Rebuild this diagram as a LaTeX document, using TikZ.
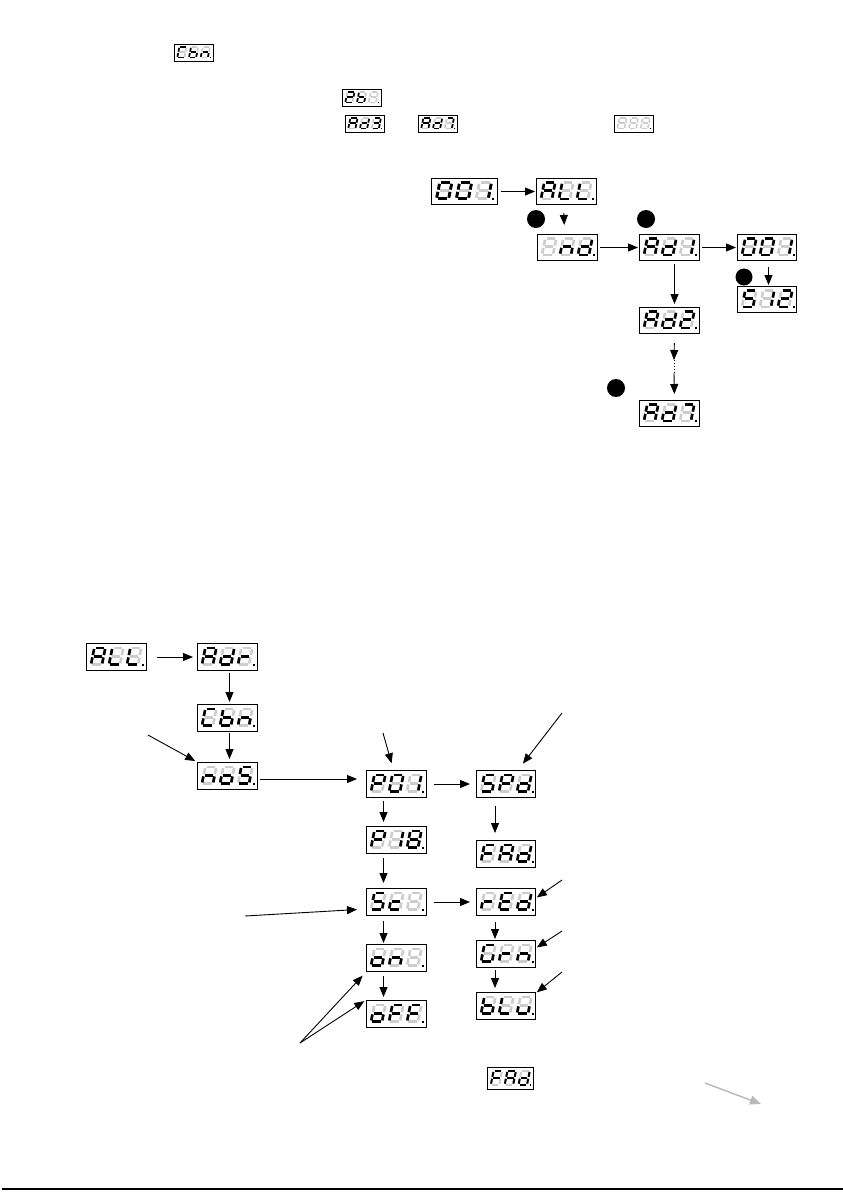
\documentclass[tikz,border=0pt]{standalone}
\usetikzlibrary{arrows.meta}
\definecolor{ghost}{RGB}{205,205,205}
\definecolor{arrgray}{RGB}{185,185,185}
\tikzset{
  dbox/.style={draw=black, line width=1pt, inner sep=0pt, fill=white},
  segoff/.style={draw=ghost, line cap=butt},
  segon/.style={draw=black, line cap=butt},
  arr/.style={-{Triangle[length=10pt,width=8pt]}, line width=0.9pt},
  garr/.style={-{Triangle[length=11pt,width=9pt]}, line width=1.4pt, draw=arrgray, fill=arrgray},
  bdot/.style={circle, fill=black, inner sep=0pt, minimum size=18pt},
}
% segment paths in digit coordinates
\def\spa{(0.12,1)--(0.88,1)}
\def\spb{(1,0.93)--(1,0.57)}
\def\spc{(1,0.43)--(1,0.07)}
\def\spd{(0.12,0)--(0.88,0)}
\def\spe{(0,0.43)--(0,0.07)}
\def\spf{(0,0.93)--(0,0.57)}
\def\spg{(0.12,0.5)--(0.88,0.5)}
\def\spx{(0,0)}
% characters
\def\sgZero{a,b,c,d,e,f}
\def\sgOne{b,c}
\def\sgTwo{a,b,d,e,g}
\def\sgThree{a,b,c,d,g}
\def\sgSeven{a,b,c}
\def\sgEight{a,b,c,d,e,f,g}
\def\sgS{a,c,d,f,g}
\def\sgA{a,b,c,e,f,g}
\def\sgL{d,e,f}
\def\sgb{c,d,e,f,g}
\def\sgC{a,d,e,f}
\def\sgn{c,e,g}
\def\sgd{b,c,d,e,g}
\def\sgr{e,g}
\def\sgo{c,d,e,g}
\def\sgP{a,b,e,f,g}
\def\sgc{d,e,g}
\def\sgF{a,e,f,g}
\def\sgE{a,d,e,f,g}
\def\sgG{a,c,d,e,f}
\def\sgu{c,d,e}
\def\sgX{x}
% one digit: x, y (bottom-left), scale, height, segment list
\newcommand\dig[5]{%
  \pgfmathsetmacro\dsx{11*#3}%
  \pgfmathsetmacro\dsy{#4}%
  \pgfmathsetmacro\dsl{0.2*#4}%
  \begin{scope}[shift={(#1,#2)}, x={(\dsx pt,0pt)}, y={(\dsl pt,\dsy pt)}]
    \foreach \q in {a,b,c,d,e,f,g}{\draw[segoff] \csname sp\q\endcsname;}
    \foreach \q in #5{\draw[segon] \csname sp\q\endcsname;}
  \end{scope}}
% display: name, x, y (top-left), width, height, scale, three digits
\newcommand\disp[9]{%
  \node[dbox, minimum width=#4pt, minimum height=#5pt, anchor=north west] (#1) at (#2,#3) {};
  \pgfmathsetmacro\dlw{2.6*#6}%
  \pgfmathsetmacro\dbase{#3+0.8*#5}%
  \pgfmathsetmacro\dh{0.62*#5}%
  \begin{scope}[line width=\dlw pt]
    \dig{#2+5*#6}{\dbase}{#6}{\dh}{#7}
    \dig{#2+23*#6}{\dbase}{#6}{\dh}{#8}
    \dig{#2+41*#6}{\dbase}{#6}{\dh}{#9}
  \end{scope}
  \fill (#2+55.5*#6,\dbase+1.2*#6) rectangle ++(2*#6,-2*#6);
}
\begin{document}
\begin{tikzpicture}[x=1pt,y=-1pt]
\useasboundingbox (0,0) rectangle (843,1192);
\fill[white] (0,0) rectangle (843,1192);

% ---- small displays at the top ----
\disp{tCbn}{174}{44}{39}{17}{0.65}{\sgC}{\sgb}{\sgn}
\disp{tTwob}{342}{89}{39}{17}{0.65}{\sgTwo}{\sgb}{\sgX}
\disp{tAdThree}{345}{115}{39}{17}{0.65}{\sgA}{\sgd}{\sgThree}
\disp{tAdSeven}{418}{115}{39}{17}{0.65}{\sgA}{\sgd}{\sgSeven}
\disp{tDash}{614}{115}{39}{17}{0.65}{\sgX}{\sgX}{\sgX}

% ---- upper diagram ----
\disp{aZZO}{431}{178}{66}{26}{1.1}{\sgZero}{\sgZero}{\sgOne}
\disp{aALL}{536}{178}{60}{26}{1}{\sgA}{\sgL}{\sgL}
\disp{Ind}{537}{234}{60}{26}{1}{\sgX}{\sgn}{\sgd}
\disp{AdOne}{639}{234}{60}{26}{1}{\sgA}{\sgd}{\sgOne}
\disp{bZZO}{737}{234}{59}{26}{1}{\sgZero}{\sgZero}{\sgOne}
\disp{SOT}{737}{286}{59}{26}{1}{\sgS}{\sgOne}{\sgTwo}
\disp{AdTwo}{639}{307}{60}{26}{1}{\sgA}{\sgd}{\sgTwo}
\disp{AdSeven}{639}{400}{60}{26}{1}{\sgA}{\sgd}{\sgSeven}

\node[bdot] (k1) at (536,219) {};
\node[bdot] (k2) at (646,219) {};
\node[bdot, minimum size=17pt] (k3) at (744,277) {};
\node[bdot] (k4) at (616,388) {};

\draw[arr, shorten <=3pt, shorten >=1pt] (aZZO.east) -- (aALL.west);
\draw[arr, shorten <=8pt, shorten >=9pt] ([xshift=-3pt]aALL.south) -- ([xshift=-3pt]Ind.north);
\draw[arr, shorten <=2pt, shorten >=1pt] (Ind.east) -- (AdOne.west);
\draw[arr, shorten <=2pt, shorten >=1pt] (AdOne.east) -- (bZZO.west);
\draw[arr, shorten <=6pt, shorten >=1pt] ([xshift=1.5pt]bZZO.south) -- ([xshift=1.5pt]SOT.north);
\draw[arr, shorten <=3pt, shorten >=3pt] ([xshift=5pt]AdOne.south) -- ([xshift=5pt]AdTwo.north);
\coordinate (m1) at (674,360);
\coordinate (m2) at (674,373);
\draw[arr, shorten <=9pt] ([xshift=5pt]AdTwo.south) -- (m1);
\draw[dotted, line width=0.9pt] (m1) -- (m2);
\draw[arr, shorten >=6pt] (m2) -- ([xshift=5pt]AdSeven.north);

% ---- lower diagram ----
\disp{ALLb}{86}{643}{60}{27}{1}{\sgA}{\sgL}{\sgL}
\disp{Adr}{197}{643}{60}{27}{1}{\sgA}{\sgd}{\sgr}
\disp{Cbnb}{197}{704}{60}{27}{1}{\sgC}{\sgb}{\sgn}
\disp{noS}{197}{762}{60}{27}{1}{\sgn}{\sgo}{\sgS}
\disp{POO}{366}{770}{60}{27}{1}{\sgP}{\sgZero}{\sgOne}
\disp{SPd}{476}{770}{59}{27}{1}{\sgS}{\sgP}{\sgd}
\disp{POE}{366}{826}{60}{27}{1}{\sgP}{\sgOne}{\sgEight}
\disp{FAd}{476}{840}{59}{27}{1}{\sgF}{\sgA}{\sgd}
\disp{Sc}{366}{888}{60}{27}{1}{\sgS}{\sgc}{\sgX}
\disp{rEd}{476}{888}{59}{27}{1}{\sgr}{\sgE}{\sgd}
\disp{on}{366}{944}{60}{27}{1}{\sgo}{\sgn}{\sgX}
\disp{Grn}{476}{940}{59}{27}{1}{\sgG}{\sgr}{\sgn}
\disp{oFF}{366}{1000}{60}{27}{1}{\sgo}{\sgF}{\sgF}
\disp{bLu}{476}{992}{59}{27}{1}{\sgb}{\sgL}{\sgu}
\disp{FAds}{487}{1067}{46}{22}{0.77}{\sgF}{\sgA}{\sgd}

\coordinate (pn) at (148,735);
\coordinate (pp) at (383,733);
\coordinate (ps) at (562,713);
\coordinate (pl) at (245,916);
\coordinate (pr) at (562,880);
\coordinate (pg) at (562,931);
\coordinate (pb) at (562,972);
\coordinate (po) at (300,1043);
\coordinate (ga) at (705,1083);
\coordinate (gb) at (761,1104);

\draw[arr, shorten <=10pt, shorten >=4pt] (ALLb.east) -- (Adr.west);
\draw[arr, shorten <=2pt, shorten >=2pt] ([xshift=2pt]Adr.south) -- ([xshift=2pt]Cbnb.north);
\draw[arr, shorten <=1pt, shorten >=3pt] ([xshift=2pt]Cbnb.south) -- ([xshift=2pt]noS.north);
\draw[arr, shorten >=2pt] (pn) -- (noS.north west);
\draw[arr, shorten <=2pt, shorten >=9pt] ([yshift=-3pt]noS.east) -- ([yshift=-3pt]noS.east -| POO.west);
\draw[arr, shorten >=7pt] (pp) -- ([xshift=-3pt]POO.north);
\draw[arr, shorten <=7pt, shorten >=6pt] (POO.east) -- (SPd.west);
\draw[arr, shorten >=8pt] (ps) -- ([xshift=12pt]SPd.north);
\draw[arr, shorten <=3pt, shorten >=4pt] ([xshift=-13pt]POO.south) -- ([xshift=-13pt]POE.north);
\draw[arr, shorten <=8pt, shorten >=7pt] ([xshift=-11pt]SPd.south) -- ([xshift=-11pt]FAd.north);
\draw[arr, shorten <=4pt, shorten >=5pt] ([xshift=-13pt]POE.south) -- ([xshift=-13pt]Sc.north);
\draw[arr, shorten >=9pt] (pl) -- ([yshift=-7pt]Sc.west);
\draw[arr, shorten <=7pt, shorten >=6pt] (Sc.east) -- (rEd.west);
\draw[arr, shorten >=1pt] (pr) -- ([yshift=4pt]rEd.east);
\draw[arr, shorten <=5pt, shorten >=1pt] ([xshift=-13pt]Sc.south) -- ([xshift=-13pt]on.north);
\draw[arr, shorten <=6pt, shorten >=1pt] ([xshift=-11pt]rEd.south) -- ([xshift=-11pt]Grn.north);
\draw[arr, shorten >=1pt] (pg) -- ([yshift=6pt]Grn.east);
\draw[arr, shorten <=4pt, shorten >=3pt] ([xshift=-13pt]on.south) -- ([xshift=-13pt]oFF.north);
\draw[arr, shorten <=2pt, shorten >=4pt] ([xshift=-11pt]Grn.south) -- ([xshift=-11pt]bLu.north);
\draw[arr, shorten >=1pt] (pb) -- ([yshift=-1pt]bLu.north east);
\draw[arr, shorten >=5pt] (po) -- (on.south west);
\draw[arr, shorten >=2pt] (po) -- (oFF.north west);
\draw[garr] (ga) -- (gb);

% bottom rule
\draw[line width=1.4pt] (2,1189) -- (843,1189);
\end{tikzpicture}
\end{document}
